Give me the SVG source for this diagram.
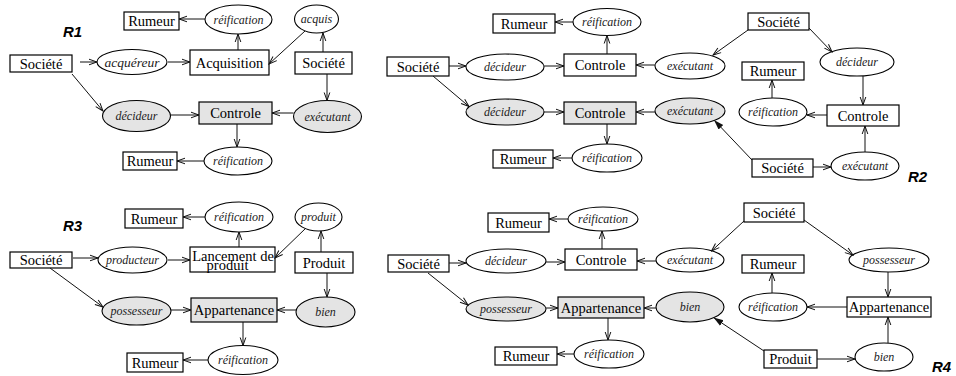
<svg xmlns="http://www.w3.org/2000/svg" width="956" height="376" viewBox="0 0 956 376">
  <style>
    .box { fill: #ffffff; stroke: #000; stroke-width: 1.2; }
    .ell { fill: #ffffff; stroke: #000; stroke-width: 1.1; }
    .box.grey, .ell.grey { fill: #e4e4e4; }
    .t { font-family: "Liberation Serif", "Times New Roman", serif; font-size: 14.5px; fill: #000; text-anchor: middle; }
    .it { font-family: "Liberation Serif", "Times New Roman", serif; font-size: 12px; font-style: italic; fill: #222; text-anchor: middle; }
    .lbl { font-family: "Liberation Sans", Arial, sans-serif; font-size: 15px; font-weight: bold; font-style: italic; fill: #000; }
    .e { fill: none; stroke: #111; stroke-width: 1; marker-end: url(#ah); }
    .ef { fill: none; stroke: #111; stroke-width: 1; marker-end: url(#ahf); }
  </style>
  <defs>
    <marker id="ah" markerWidth="10" markerHeight="8" refX="9" refY="4" orient="auto" markerUnits="userSpaceOnUse">
      <path d="M1,1.2 L9,4 L1,6.8" fill="none" stroke="#111" stroke-width="1"/>
    </marker>
    <marker id="ahf" markerWidth="11" markerHeight="8" refX="10" refY="4" orient="auto" markerUnits="userSpaceOnUse">
      <path d="M0,0.8 L10,4 L0,7.2 z" fill="#111"/>
    </marker>
  </defs>

  <rect width="956" height="376" fill="#ffffff"/>

  <!-- R1 -->
  <text class="lbl" x="63" y="37">R1</text>
  <g id="r1-societe"><rect class="box" x="10" y="55" width="62" height="17"/><text class="t" x="41" y="68.5">Société</text></g>
  <g id="r1-acquereur"><ellipse class="ell" cx="132" cy="62" rx="35" ry="12.5"/><text class="it" x="132" y="66.5" style="font-size:13.5px">acquéreur</text></g>
  <g id="r1-acquisition"><rect class="box" x="190" y="50" width="79" height="25"/><text class="t" x="229.5" y="67.5">Acquisition</text></g>
  <g id="r1-reification1"><ellipse class="ell" cx="238.5" cy="19.5" rx="33.5" ry="14.5"/><text class="it" x="238.5" y="23.5">réification</text></g>
  <g id="r1-rumeur1"><rect class="box" x="124" y="12" width="55" height="18"/><text class="t" x="151.5" y="26">Rumeur</text></g>
  <g id="r1-acquis"><ellipse class="ell" cx="316.5" cy="19" rx="22" ry="14"/><text class="it" x="316.5" y="23">acquis</text></g>
  <g id="r1-societe2"><rect class="box" x="295" y="52" width="57" height="22"/><text class="t" x="323.5" y="68">Société</text></g>
  <g id="r1-decideur"><ellipse class="ell grey" cx="136.5" cy="116" rx="34" ry="15.5"/><text class="it" x="136.5" y="120">décideur</text></g>
  <g id="r1-controle"><rect class="box grey" x="199" y="102" width="73" height="22"/><text class="t" x="235.5" y="118">Controle</text></g>
  <g id="r1-executant"><ellipse class="ell grey" cx="327.5" cy="116.5" rx="34" ry="16"/><text class="it" x="327.5" y="120.5">exécutant</text></g>
  <g id="r1-reification2"><ellipse class="ell" cx="238" cy="161" rx="34" ry="14"/><text class="it" x="238" y="165">réification</text></g>
  <g id="r1-rumeur2"><rect class="box" x="123" y="152" width="54" height="18"/><text class="t" x="150" y="166">Rumeur</text></g>

  <!-- R2 -->
  <text class="lbl" x="908" y="182">R2</text>
  <g id="r2-rumeur1"><rect class="box" x="493" y="14" width="62" height="19"/><text class="t" x="524" y="28.5">Rumeur</text></g>
  <g id="r2-reification1"><ellipse class="ell" cx="607" cy="22" rx="34" ry="13.5"/><text class="it" x="607" y="26">réification</text></g>
  <g id="r2-societe1"><rect class="box" x="387" y="57" width="62" height="19"/><text class="t" x="418" y="71.5">Société</text></g>
  <g id="r2-decideur1"><ellipse class="ell" cx="505" cy="67" rx="39" ry="13"/><text class="it" x="505" y="71">décideur</text></g>
  <g id="r2-controle1"><rect class="box" x="564" y="54" width="72" height="22"/><text class="t" x="600" y="70">Controle</text></g>
  <g id="r2-executant1"><ellipse class="ell" cx="690" cy="66" rx="35" ry="13"/><text class="it" x="690" y="70">exécutant</text></g>
  <g id="r2-societe2"><rect class="box" x="748" y="13" width="61" height="17"/><text class="t" x="778.5" y="26.5">Société</text></g>
  <g id="r2-decideur2"><ellipse class="ell" cx="857" cy="62" rx="37" ry="14"/><text class="it" x="857" y="66">décideur</text></g>
  <g id="r2-rumeur2"><rect class="box" x="742" y="62" width="62" height="18"/><text class="t" x="773" y="76">Rumeur</text></g>
  <g id="r2-reification2"><ellipse class="ell" cx="773" cy="112" rx="34" ry="14"/><text class="it" x="773" y="116">réification</text></g>
  <g id="r2-controle2"><rect class="box" x="827" y="105" width="72" height="21"/><text class="t" x="863" y="120.5">Controle</text></g>
  <g id="r2-decideur3"><ellipse class="ell grey" cx="505" cy="112" rx="39" ry="13"/><text class="it" x="505" y="116">décideur</text></g>
  <g id="r2-controle3"><rect class="box grey" x="564" y="102" width="72" height="22"/><text class="t" x="600" y="118">Controle</text></g>
  <g id="r2-executant2"><ellipse class="ell grey" cx="690" cy="111" rx="35" ry="13"/><text class="it" x="690" y="115">exécutant</text></g>
  <g id="r2-reification3"><ellipse class="ell" cx="607" cy="158" rx="35" ry="14"/><text class="it" x="607" y="162">réification</text></g>
  <g id="r2-rumeur3"><rect class="box" x="493" y="150" width="60" height="18"/><text class="t" x="523" y="164">Rumeur</text></g>
  <g id="r2-societe3"><rect class="box" x="752" y="159" width="61" height="18"/><text class="t" x="782.5" y="173">Société</text></g>
  <g id="r2-executant3"><ellipse class="ell" cx="865" cy="166" rx="34" ry="14"/><text class="it" x="865" y="170">exécutant</text></g>

  <!-- R3 -->
  <text class="lbl" x="63" y="231">R3</text>
  <g id="r3-rumeur1"><rect class="box" x="125" y="209" width="58" height="19"/><text class="t" x="154" y="223.5">Rumeur</text></g>
  <g id="r3-reification1"><ellipse class="ell" cx="239" cy="217" rx="34" ry="15"/><text class="it" x="239" y="221">réification</text></g>
  <g id="r3-produit-role"><ellipse class="ell" cx="318.5" cy="217" rx="23.5" ry="14"/><text class="it" x="318.5" y="221">produit</text></g>
  <g id="r3-lancement"><rect class="box" x="190" y="247" width="85" height="25"/><text class="t" x="233" y="261">Lancement de</text><text class="t" x="227.5" y="269.5">produit</text></g>
  <g id="r3-societe"><rect class="box" x="10" y="252" width="62" height="16"/><text class="t" x="41" y="265">Société</text></g>
  <g id="r3-producteur"><ellipse class="ell" cx="132.5" cy="260" rx="34.5" ry="13"/><text class="it" x="132.5" y="264">producteur</text></g>
  <g id="r3-produit"><rect class="box" x="295" y="252" width="58" height="21"/><text class="t" x="324" y="267.5">Produit</text></g>
  <g id="r3-possesseur"><ellipse class="ell grey" cx="136.5" cy="311" rx="34.5" ry="14"/><text class="it" x="136.5" y="315">possesseur</text></g>
  <g id="r3-appartenance"><rect class="box grey" x="191" y="298" width="86" height="24"/><text class="t" x="234" y="315">Appartenance</text></g>
  <g id="r3-bien"><ellipse class="ell grey" cx="325.5" cy="312" rx="29.5" ry="15"/><text class="it" x="325.5" y="316">bien</text></g>
  <g id="r3-reification2"><ellipse class="ell" cx="243" cy="360" rx="35" ry="14.5"/><text class="it" x="243" y="364">réification</text></g>
  <g id="r3-rumeur2"><rect class="box" x="127" y="353" width="56" height="19"/><text class="t" x="155" y="367.5">Rumeur</text></g>

  <!-- R4 -->
  <text class="lbl" x="932" y="372">R4</text>
  <g id="r4-rumeur1"><rect class="box" x="488" y="213" width="61" height="19"/><text class="t" x="518.5" y="227.5">Rumeur</text></g>
  <g id="r4-reification1"><ellipse class="ell" cx="603" cy="219" rx="35" ry="12"/><text class="it" x="603" y="223">réification</text></g>
  <g id="r4-societe1"><rect class="box" x="388" y="255" width="61" height="17"/><text class="t" x="418.5" y="268.5">Société</text></g>
  <g id="r4-decideur"><ellipse class="ell" cx="506" cy="261" rx="40" ry="12"/><text class="it" x="506" y="265">décideur</text></g>
  <g id="r4-controle"><rect class="box" x="565" y="249" width="72" height="21"/><text class="t" x="601" y="264.5">Controle</text></g>
  <g id="r4-executant"><ellipse class="ell" cx="690" cy="260" rx="34" ry="12"/><text class="it" x="690" y="264">exécutant</text></g>
  <g id="r4-societe2"><rect class="box" x="744" y="203" width="60" height="19"/><text class="t" x="774" y="217.5">Société</text></g>
  <g id="r4-possesseur1"><ellipse class="ell" cx="889" cy="260" rx="40" ry="12"/><text class="it" x="889" y="264">possesseur</text></g>
  <g id="r4-rumeur2"><rect class="box" x="742" y="255" width="62" height="18"/><text class="t" x="773" y="269">Rumeur</text></g>
  <g id="r4-reification2"><ellipse class="ell" cx="773" cy="307" rx="34" ry="14"/><text class="it" x="773" y="311">réification</text></g>
  <g id="r4-appartenance1"><rect class="box" x="847" y="297" width="84" height="20"/><text class="t" x="889" y="312">Appartenance</text></g>
  <g id="r4-possesseur2"><ellipse class="ell grey" cx="506" cy="309" rx="40" ry="12"/><text class="it" x="506" y="313">possesseur</text></g>
  <g id="r4-appartenance2"><rect class="box grey" x="558" y="297" width="86" height="21"/><text class="t" x="601" y="312.5">Appartenance</text></g>
  <g id="r4-bien1"><ellipse class="ell grey" cx="690" cy="307" rx="34" ry="15"/><text class="it" x="690" y="311">bien</text></g>
  <g id="r4-reification3"><ellipse class="ell" cx="609" cy="354" rx="35" ry="14"/><text class="it" x="609" y="358">réification</text></g>
  <g id="r4-rumeur3"><rect class="box" x="495" y="347" width="62" height="18"/><text class="t" x="526" y="361">Rumeur</text></g>
  <g id="r4-produit"><rect class="box" x="764" y="350" width="53" height="18"/><text class="t" x="790.5" y="364">Produit</text></g>
  <g id="r4-bien2"><ellipse class="ell" cx="884" cy="357" rx="29" ry="14"/><text class="it" x="884" y="361">bien</text></g>

  <g id="connectors">
    <!-- R1 -->
    <path class="e" d="M80,62 L97,62"/>
    <path class="e" d="M168,62 L190,62"/>
    <path class="e" d="M238,50 L238,34"/>
    <path class="e" d="M205,19 L179,19"/>
    <path class="e" d="M305,31 L269,64"/>
    <path class="e" d="M323,52 L323,33"/>
    <path class="e" d="M327,74 L327,100.5"/>
    <path class="e" d="M72,74 L103,111"/>
    <path class="e" d="M170,115 L199,115"/>
    <path class="e" d="M293.5,113 L272,113"/>
    <path class="e" d="M237,124 L237,147"/>
    <path class="e" d="M204,161 L177,161"/>
    <!-- R2 -->
    <path class="e" d="M573,22 L555,22"/>
    <path class="e" d="M607,54 L607,35.5"/>
    <path class="e" d="M449,66 L466,66"/>
    <path class="e" d="M544,66 L564,66"/>
    <path class="e" d="M655,65 L636,65"/>
    <path class="e" d="M748,30 L713,55"/>
    <path class="e" d="M809,28 L832,52"/>
    <path class="e" d="M863,76 L863,105"/>
    <path class="e" d="M827,115 L807,115"/>
    <path class="e" d="M772,98 L772,80"/>
    <path class="e" d="M433,76 L469,106.5"/>
    <path class="e" d="M544,112 L564,112"/>
    <path class="e" d="M655,112 L636,112"/>
    <path class="e" d="M607,124 L607,144"/>
    <path class="e" d="M572,158 L553,158"/>
    <path class="ef" d="M752,160 L714,120"/>
    <path class="e" d="M813,167 L831,167"/>
    <path class="e" d="M865,152 L865,126"/>
    <!-- R3 -->
    <path class="e" d="M205,217 L183,217"/>
    <path class="e" d="M239,247 L239,232"/>
    <path class="e" d="M73,258 L98,258"/>
    <path class="e" d="M168,260 L190,260"/>
    <path class="e" d="M306,228 L275,258"/>
    <path class="e" d="M321,252 L321,231"/>
    <path class="e" d="M327,273 L327,297"/>
    <path class="e" d="M50,268 L103,307"/>
    <path class="e" d="M171,310 L191,310"/>
    <path class="e" d="M296,310 L277,310"/>
    <path class="e" d="M243,322 L243,345.5"/>
    <path class="e" d="M208,360 L183,360"/>
    <!-- R4 -->
    <path class="e" d="M568,219 L549,219"/>
    <path class="e" d="M602,249 L602,231"/>
    <path class="e" d="M449,263 L466,263"/>
    <path class="e" d="M546,262 L565,262"/>
    <path class="e" d="M656,261 L637,261"/>
    <path class="e" d="M744,221 L711.5,251"/>
    <path class="e" d="M804,220 L853,255"/>
    <path class="e" d="M888,272 L888,297"/>
    <path class="e" d="M847,307 L807,307"/>
    <path class="e" d="M772,293 L772,273"/>
    <path class="e" d="M428,273 L468,305"/>
    <path class="e" d="M546,308 L558,308"/>
    <path class="e" d="M656,308 L644,308"/>
    <path class="e" d="M608,318 L608,340"/>
    <path class="e" d="M574,354 L557,354"/>
    <path class="ef" d="M764,351 L713.5,317.5"/>
    <path class="e" d="M817,359 L855,359"/>
    <path class="e" d="M888,343 L888,317"/>
  </g>
</svg>
